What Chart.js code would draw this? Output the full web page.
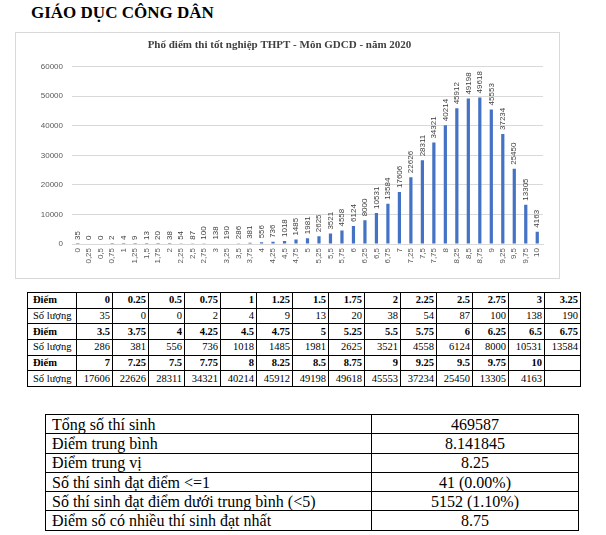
<!DOCTYPE html>
<html>
<head>
<meta charset="utf-8">
<script src="https://cdn.jsdelivr.net/npm/chart.js@4"></script>
<style>
  html, body { margin: 0; padding: 0; background: #fff; }
  body { width: 606px; height: 535px; position: relative; overflow: hidden; font-family: "Liberation Serif", "Times New Roman", serif; }
  #pageTitle { position: absolute; left: 31px; top: 3px; font-family: "Liberation Serif", serif; font-size: 17px; font-weight: bold; color: #000; white-space: nowrap; }
  #chartBox { position: absolute; left: 15px; top: 32px; width: 543px; height: 245px; border: 1px solid #d9d9d9; }
  #chartBox canvas { display: block; }
  table { border-collapse: collapse; position: absolute; color: #000; font-family: "Liberation Serif", serif; }
  #dataTable { left: 27px; top: 292px; font-size: 10.5px; table-layout: fixed; }
  #dataTable td { font-family: "Liberation Serif", serif; border: 1px solid #000; height: 14.7px; padding: 0 2px; text-align: right; line-height: 12px; white-space: nowrap; }
  #dataTable td.lab { text-align: left; padding-left: 5px; }
  #dataTable tr.score td { font-weight: bold; }
  #sumTable { left: 45px; top: 414px; font-size: 16px; table-layout: fixed; }
  #sumTable td { font-family: "Liberation Serif", serif; border: 1px solid #000; height: 18.3px; padding: 0 6px; line-height: 17px; white-space: nowrap; }
  #sumTable td.val { text-align: center; }
</style>
</head>
<body>
<div id="pageTitle">GIÁO DỤC CÔNG DÂN</div>
<div id="chartBox"><canvas id="c" width="543" height="245"></canvas></div>
<table id="dataTable"></table>
<table id="sumTable"></table>
<script>
// ---- data ----
const scores = [0, 0.25, 0.5, 0.75, 1, 1.25, 1.5, 1.75, 2, 2.25, 2.5, 2.75, 3, 3.25, 3.5, 3.75, 4, 4.25, 4.5, 4.75, 5, 5.25, 5.5, 5.75, 6, 6.25, 6.5, 6.75, 7, 7.25, 7.5, 7.75, 8, 8.25, 8.5, 8.75, 9, 9.25, 9.5, 9.75, 10];
const counts = [35, 0, 0, 2, 4, 9, 13, 20, 38, 54, 87, 100, 138, 190, 286, 381, 556, 736, 1018, 1485, 1981, 2625, 3521, 4558, 6124, 8000, 10531, 13584, 17606, 22626, 28311, 34321, 40214, 45912, 49198, 49618, 45553, 37234, 25450, 13305, 4163];
const tickLabels = ["0", "0,25", "0,5", "0,75", "1", "1,25", "1,5", "1,75", "2", "2,25", "2,5", "2,75", "3", "3,25", "3,5", "3,75", "4", "4,25", "4,5", "4,75", "5", "5,25", "5,5", "5,75", "6", "6,25", "6,5", "6,75", "7", "7,25", "7,5", "7,75", "8", "8,25", "8,5", "8,75", "9", "9,25", "9,5", "9,75", "10"];
const yTicks = [0, 10000, 20000, 30000, 40000, 50000, 60000];
const chartTitle = "Phổ điểm thi tốt nghiệp THPT - Môn GDCD - năm 2020";
const rowLabelScore = "Điểm";
const rowLabelCount = "Số lượng";
const summaryLabels = ["Tổng số thí sinh", "Điểm trung bình", "Điểm trung vị", "Số thí sinh đạt điểm  <=1", "Số thí sinh đạt điểm  dưới trung bình (<5)", "Điểm số có nhiều thí sinh đạt nhất"];
const summaryValues = ["469587", "8.141845", "8.25", "41 (0.00%)", "5152 (1.10%)", "8.75"];

// ---- data table ----
(function () {
  const t = document.getElementById('dataTable');
  const cg = document.createElement('colgroup');
  const c0 = document.createElement('col'); c0.style.width = '49px'; cg.appendChild(c0);
  for (let i = 0; i < 14; i++) { const c = document.createElement('col'); c.style.width = '36px'; cg.appendChild(c); }
  t.appendChild(cg);
  for (let r = 0; r < 3; r++) {
    const tr1 = document.createElement('tr'); tr1.className = 'score';
    const tr2 = document.createElement('tr');
    const l1 = document.createElement('td'); l1.className = 'lab'; l1.textContent = rowLabelScore; tr1.appendChild(l1);
    const l2 = document.createElement('td'); l2.className = 'lab'; l2.textContent = rowLabelCount; tr2.appendChild(l2);
    for (let i = 0; i < 14; i++) {
      const k = r * 14 + i;
      const a = document.createElement('td'); const b = document.createElement('td');
      if (k < scores.length) { a.textContent = String(scores[k]); b.textContent = String(counts[k]); }
      tr1.appendChild(a); tr2.appendChild(b);
    }
    t.appendChild(tr1); t.appendChild(tr2);
  }
})();

// ---- summary table ----
(function () {
  const t = document.getElementById('sumTable');
  const cg = document.createElement('colgroup');
  const c0 = document.createElement('col'); c0.style.width = '326px'; cg.appendChild(c0);
  const c1 = document.createElement('col'); c1.style.width = '207px'; cg.appendChild(c1);
  t.appendChild(cg);
  summaryLabels.forEach((lab, i) => {
    const tr = document.createElement('tr');
    const a = document.createElement('td'); a.textContent = lab;
    const b = document.createElement('td'); b.className = 'val'; b.textContent = summaryValues[i];
    tr.appendChild(a); tr.appendChild(b); t.appendChild(tr);
  });
})();

// ---- chart ----
const barLabels = {
  id: 'barLabels',
  afterDatasetsDraw(chart) {
    const ctx = chart.ctx;
    const meta = chart.getDatasetMeta(0);
    const data = chart.data.datasets[0].data;
    ctx.save();
    ctx.fillStyle = '#404040';
    ctx.font = '8px "Liberation Sans", Arial, sans-serif';
    ctx.textAlign = 'left';
    ctx.textBaseline = 'middle';
    meta.data.forEach((el, i) => {
      ctx.save();
      ctx.translate(el.x, el.y - 4);
      ctx.rotate(-Math.PI / 2);
      ctx.fillText(String(data[i]), 0, 0);
      ctx.restore();
    });
    ctx.restore();
  }
};

new Chart(document.getElementById('c'), {
  type: 'bar',
  data: {
    labels: tickLabels,
    datasets: [{
      data: counts,
      backgroundColor: '#4472C4',
      borderWidth: 0,
      barPercentage: 0.28,
      categoryPercentage: 1
    }]
  },
  options: {
    responsive: false,
    animation: false,
    devicePixelRatio: 1,
    layout: { padding: { left: 0, right: 16, top: 0, bottom: 0 } },
    plugins: {
      legend: { display: false },
      tooltip: { enabled: false },
      title: {
        display: true,
        text: chartTitle,
        color: '#404040',
        font: { family: '"Liberation Serif", "Times New Roman", serif', size: 11, weight: 'bold' },
        padding: { top: 6, bottom: 14.5 }
      }
    },
    scales: {
      x: {
        grid: { display: false, drawTicks: false },
        border: { display: true, color: '#d9d9d9' },
        ticks: {
          color: '#595959',
          font: { family: '"Liberation Sans", Arial, sans-serif', size: 8 },
          minRotation: 90, maxRotation: 90,
          autoSkip: false,
          padding: 4
        },
        afterFit(s) { s.height = 34; }
      },
      y: {
        min: 0, max: 60000,
        afterBuildTicks(s) { s.ticks = yTicks.map(v => ({ value: v })); },
        grid: { color: '#d9d9d9', drawTicks: false },
        border: { display: false },
        ticks: {
          color: '#595959',
          font: { family: '"Liberation Sans", Arial, sans-serif', size: 8 },
          padding: 9,
          callback: (v) => String(v)
        },
        afterFit(s) { s.width = 56; }
      }
    }
  },
  plugins: [barLabels]
});
</script>
</body>
</html>
